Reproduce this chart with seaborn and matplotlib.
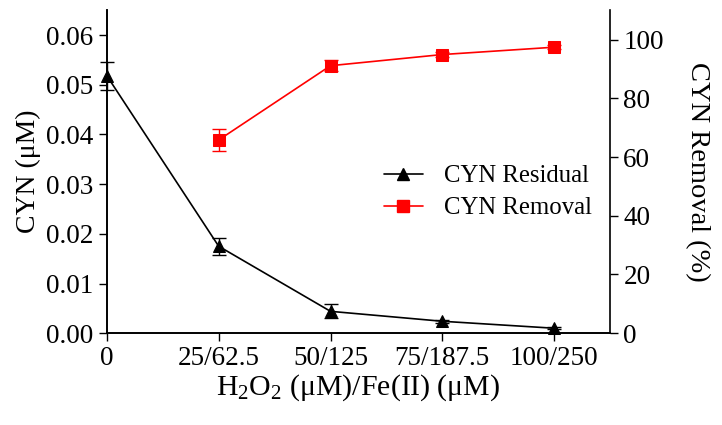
import numpy as np
import pandas as pd
import seaborn as sns
import matplotlib.pyplot as plt
from matplotlib.lines import Line2D

sns.set_style('ticks')
plt.rcParams['font.family'] = ['Liberation Serif', 'DejaVu Serif']
plt.rcParams['mathtext.fontset'] = 'custom'
plt.rcParams['mathtext.rm'] = 'Liberation Serif'
plt.rcParams['mathtext.default'] = 'regular'
plt.rcParams['text.color'] = 'black'
plt.rcParams['axes.labelcolor'] = 'black'

# data
dose_labels = ['0', '25/62.5', '50/125', '75/187.5', '100/250']
residual = [0.0518, 0.0175, 0.0044, 0.0024, 0.0010]
residual_err = [0.0028, 0.0017, 0.0014, 0.0003, 0.0002]
removal_labels = ['25/62.5', '50/125', '75/187.5', '100/250']
removal = [65.8, 91.1, 94.9, 97.4]
removal_err = [3.8, 1.8, 0.8, 0.6]

pos = {lab: i for i, lab in enumerate(dose_labels)}
df_res = pd.DataFrame({'x': [pos[l] for l in dose_labels], 'y': residual, 'err': residual_err})
df_rem = pd.DataFrame({'x': [pos[l] for l in removal_labels], 'y': removal, 'err': removal_err})

fig, ax = plt.subplots(figsize=(7.22, 4.25), dpi=100)
fig.subplots_adjust(left=0.148, right=0.845, top=0.976, bottom=0.216)
ax2 = ax.twinx()

# residual (left axis)
sns.lineplot(data=df_res, x='x', y='y', ax=ax, color='black', lw=1.2,
             marker='^', markersize=9, markeredgecolor='black', clip_on=False)
ax.errorbar(df_res['x'], df_res['y'], yerr=df_res['err'], fmt='none',
            ecolor='black', elinewidth=1, capsize=5, clip_on=False)

# removal (right axis)
sns.lineplot(data=df_rem, x='x', y='y', ax=ax2, color='red', lw=1.2,
             marker='s', markersize=8, markeredgecolor='red', clip_on=False)
ax2.errorbar(df_rem['x'], df_rem['y'], yerr=df_rem['err'], fmt='none',
             ecolor='red', elinewidth=1, capsize=5, clip_on=False)

ax.set_xlim(0, 4.5)
ax.set_ylim(0, 0.065)
ax2.set_ylim(0, 110)
ax.set_xticks(range(len(dose_labels)))
ax.set_xticklabels(dose_labels)
ax.set_yticks(np.arange(0, 0.061, 0.01))
ax.set_yticklabels([f'{v:.2f}' for v in np.arange(0, 0.061, 0.01)])
ax2.set_yticks(range(0, 101, 20))

for a in (ax, ax2):
    a.tick_params(labelsize=19.5, length=6, width=1, direction='out',
                  colors='black', labelcolor='black')
    for s in a.spines.values():
        s.set_linewidth(1.2)
        s.set_color('black')
    a.spines['top'].set_visible(False)
ax.spines['right'].set_visible(False)

ax.set_xlabel('H$_2$O$_2$ (μM)/Fe(II) (μM)', fontsize=21.5, labelpad=1, color='black')
ax.set_ylabel('CYN (μM)', fontsize=20, labelpad=4, color='black')
ax2.set_ylabel('CYN Removal (%)', fontsize=20.5, rotation=270, labelpad=33, color='black')

handles = [
    Line2D([], [], color='black', marker='^', markersize=9, lw=1.2),
    Line2D([], [], color='red', marker='s', markersize=8, lw=1.2),
]
ax.legend(handles, ['CYN Residual', 'CYN Removal'], loc='upper left',
          bbox_to_anchor=(0.507, 0.59), frameon=False, fontsize=17.8,
          handlelength=1.55, handletextpad=0.85, labelspacing=0.4,
          labelcolor='black')

plt.savefig('out.png', dpi=100)
